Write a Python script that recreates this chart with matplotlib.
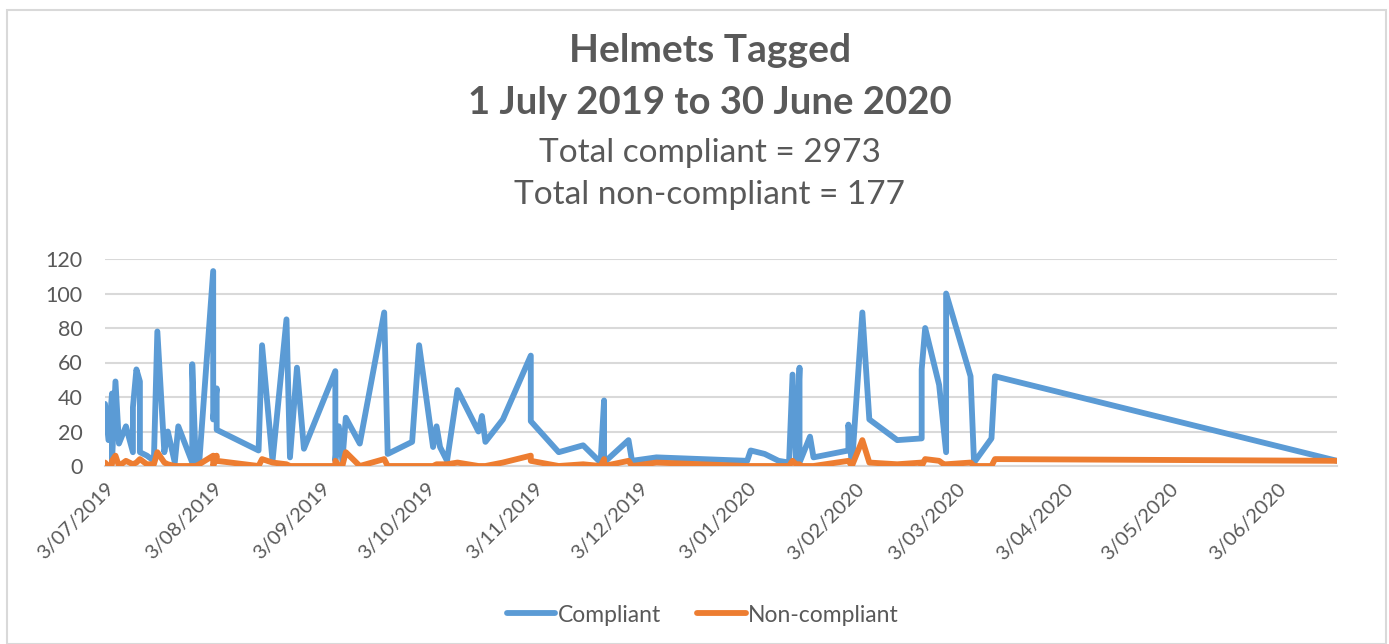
import pandas as pd
import matplotlib.pyplot as plt
from matplotlib.patches import Rectangle

# values, in the order the rows were plotted
dates = ['2019-07-03', '2019-07-04', '2019-07-05', '2019-07-05', '2019-07-06', '2019-07-07',
         '2019-07-09', '2019-07-11', '2019-07-11', '2019-07-12', '2019-07-13', '2019-07-13',
         '2019-07-15', '2019-07-17', '2019-07-18', '2019-07-20', '2019-07-21', '2019-07-23',
         '2019-07-24', '2019-07-28', '2019-07-28', '2019-07-29', '2019-07-30', '2019-08-03',
         '2019-08-03', '2019-08-04', '2019-08-04', '2019-08-16', '2019-08-17', '2019-08-20',
         '2019-08-24', '2019-08-25', '2019-08-27', '2019-08-29', '2019-09-07', '2019-09-07',
         '2019-09-08', '2019-09-09', '2019-09-10', '2019-09-14', '2019-09-21', '2019-09-22',
         '2019-09-29', '2019-10-01', '2019-10-05', '2019-10-06', '2019-10-07', '2019-10-09',
         '2019-10-12', '2019-10-18', '2019-10-19', '2019-10-20', '2019-10-25', '2019-11-02',
         '2019-11-02', '2019-11-10', '2019-11-17', '2019-11-22', '2019-11-23', '2019-11-23',
         '2019-11-30', '2019-12-01', '2019-12-08', '2020-01-03', '2020-01-04', '2020-01-08',
         '2020-01-12', '2020-01-15', '2020-01-16', '2020-01-17', '2020-01-18', '2020-01-18',
         '2020-01-21', '2020-01-22', '2020-02-01', '2020-02-01', '2020-02-02', '2020-02-05',
         '2020-02-07', '2020-02-15', '2020-02-22', '2020-02-22', '2020-02-23', '2020-02-27',
         '2020-02-29', '2020-02-29', '2020-03-07', '2020-03-08', '2020-03-13', '2020-03-14',
         '2020-06-20']
compliant = [36, 15, 42, 2, 49, 13, 23, 8, 34, 56, 49, 8,
             6, 3, 78, 8, 20, 2, 23, 2, 59, 2, 2, 113,
             27, 45, 21, 9, 70, 3, 85, 5, 57, 10, 55, 3,
             23, 3, 28, 13, 89, 7, 14, 70, 11, 23, 11, 3,
             44, 20, 29, 14, 27, 64, 26, 8, 12, 2, 38, 2,
             15, 3, 5, 3, 9, 7, 3, 2, 53, 3, 57, 2,
             17, 5, 9, 24, 0, 89, 27, 15, 16, 56, 80, 47,
             8, 100, 52, 2, 16, 52, 3]
non_compliant = [2, 0, 1, 3, 6, 0, 3, 1, 1, 2, 4, 4,
                 1, 1, 8, 2, 1, 0, 0, 0, 0, 0, 1, 6,
                 0, 6, 3, 0, 4, 2, 1, 0, 0, 0, 0, 3,
                 0, 0, 8, 0, 4, 0, 0, 0, 0, 1, 1, 1,
                 2, 0, 0, 0, 2, 6, 3, 0, 1, 0, 4, 0,
                 3, 0, 2, 0, 0, 0, 0, 0, 3, 1, 1, 0,
                 0, 0, 3, 3, 0, 15, 2, 1, 2, 0, 4, 3,
                 0, 1, 2, 0, 0, 4, 3]

tick_dates = ['2019-07-03', '2019-08-03', '2019-09-03', '2019-10-03', '2019-11-03', '2019-12-03',
              '2020-01-03', '2020-02-03', '2020-03-03', '2020-04-03', '2020-05-03', '2020-06-03']

subtitle1 = 'Total compliant = 2973'
subtitle2 = 'Total non-compliant = 177'

df = pd.DataFrame({'Date': pd.to_datetime(dates),
                   'Compliant': compliant,
                   'Non-compliant': non_compliant})
ticks = pd.to_datetime(tick_dates)

plt.rcParams['font.family'] = ['Lato', 'DejaVu Sans']
grey = '#595959'

fig = plt.figure(figsize=(13.89, 6.44), dpi=100)
ax = fig.add_axes([105 / 1389, 1 - 466 / 644, (1337 - 105) / 1389, (466 - 259) / 644])

# chart area border
fig.patches.append(Rectangle((7 / 1389, 0), 1379 / 1389, 1 - 10 / 644, transform=fig.transFigure,
                             fill=False, edgecolor='#D9D9D9', linewidth=1.5))

ax.plot(df['Date'], df['Compliant'], color='#5B9BD5', linewidth=4.2,
        solid_joinstyle='round', solid_capstyle='round', label='Compliant', zorder=3)
ax.plot(df['Date'], df['Non-compliant'], color='#ED7D31', linewidth=4.2,
        solid_joinstyle='round', solid_capstyle='round', label='Non-compliant', zorder=3)

ax.set_ylim(0, 120)
ax.set_yticks(range(0, 121, 20))
ax.set_xlim(df['Date'].min(), df['Date'].max())
ax.set_xticks(ticks)
ax.set_xticklabels([f'{d.day}/{d.month:02d}/{d.year}' for d in ticks],
                   rotation=45, ha='right', va='top', rotation_mode='anchor')

ax.grid(axis='y', color='#D9D9D9', linewidth=1.5)
ax.set_axisbelow(True)
for s in ['top', 'right', 'left']:
    ax.spines[s].set_visible(False)
ax.spines['bottom'].set_color('#D9D9D9')
ax.spines['bottom'].set_linewidth(1.5)
ax.tick_params(axis='both', length=0, labelcolor=grey)
ax.tick_params(axis='x', labelsize=14.5, pad=10)
ax.tick_params(axis='y', labelsize=15.5, pad=16)

fig.text(0.511, 1 - 50 / 644, 'Helmets Tagged', ha='center', va='center',
         fontsize=28, fontweight='bold', color=grey)
fig.text(0.511, 1 - 103 / 644, '1 July 2019 to 30 June 2020', ha='center', va='center',
         fontsize=27.5, fontweight='bold', color=grey)
fig.text(0.511, 1 - 153 / 644, subtitle1, ha='center', va='center', fontsize=24, color=grey)
fig.text(0.511, 1 - 195 / 644, subtitle2, ha='center', va='center', fontsize=24, color=grey)

leg = fig.legend(loc='center', bbox_to_anchor=(0.506, 1 - 615 / 644), ncol=2, frameon=False,
                 fontsize=16.5, handlelength=2.1, handletextpad=0.1, columnspacing=1.6)
for t in leg.get_texts():
    t.set_color(grey)

fig.savefig('out.png', dpi=100)
